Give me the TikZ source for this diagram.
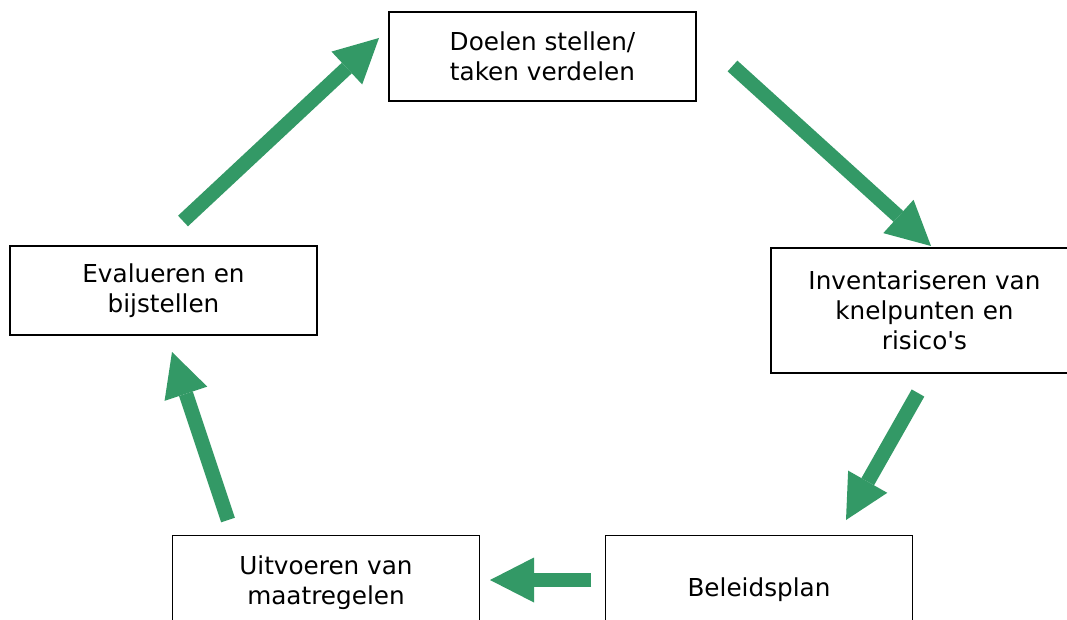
\documentclass[tikz,border=0pt]{standalone}
\usepackage{fontspec}
\setmainfont{DejaVu Sans}
\usetikzlibrary{arrows.meta}
\definecolor{cyclegreen}{RGB}{51,153,102}
\tikzset{
  stepbox/.style={draw=black, line width=1.7pt, fill=white, inner sep=0pt,
    minimum width=307pt, align=center, font=\fontsize{24.7}{30}\selectfont},
  cyclearrow/.style={draw=cyclegreen, line width=14.5pt, line cap=butt,
    -{Triangle[width=45pt,length=44pt,line width=0pt]}}
}
\begin{document}
\begin{tikzpicture}[x=1pt,y=-1pt]
\clip (0,0) rectangle (1067,620);
\fill[white] (0,0) rectangle (1067,620);
\node[stepbox, minimum height=89pt] (doel) at (542.5,56.5) {Doelen stellen/\\taken verdelen};
\node[stepbox, minimum height=125pt] (inv) at (924.5,310.5) {Inventariseren van\\knelpunten en\\risico\textquotesingle s};
\node[stepbox, minimum height=108pt] (bel) at (759,589.5) {Beleidsplan};
\node[stepbox, minimum height=94pt] (uit) at (326,582.5) {Uitvoeren van\\maatregelen};
\node[stepbox, minimum height=89pt] (eval) at (163.5,290.5) {Evalueren en\\bijstellen};
\coordinate (a1s) at (183,221); \coordinate (a1e) at (379,38);
\coordinate (a2s) at (732.5,66);  \coordinate (a2e) at (931,246);
\coordinate (a3s) at (918,393); \coordinate (a3e) at (846,520);
\coordinate (a4s) at (591,580); \coordinate (a4e) at (490,580);
\coordinate (a5s) at (228,520); \coordinate (a5e) at (172,352);
\draw[cyclearrow] (a1s) -- (a1e);
\draw[cyclearrow] (a2s) -- (a2e);
\draw[cyclearrow] (a3s) -- (a3e);
\draw[cyclearrow] (a4s) -- (a4e);
\draw[cyclearrow] (a5s) -- (a5e);
\end{tikzpicture}
\end{document}
